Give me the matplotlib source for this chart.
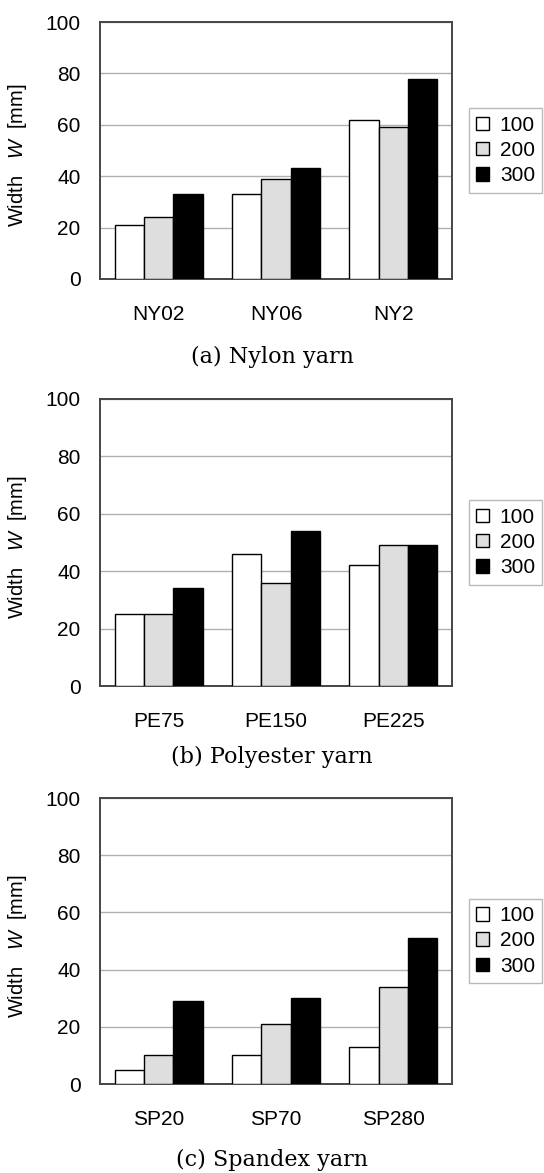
import matplotlib
matplotlib.use("Agg")
import matplotlib.pyplot as plt
import numpy as np

# Yarn widths W [mm] at three tension levels
levels = ["100", "200", "300"]

nylon_names = ["NY02", "NY06", "NY2"]
nylon_100 = [21, 33, 62]
nylon_200 = [24, 39, 59]
nylon_300 = [33, 43, 78]

polyester_names = ["PE75", "PE150", "PE225"]
polyester_100 = [25, 46, 42]
polyester_200 = [25, 36, 49]
polyester_300 = [34, 54, 49]

spandex_names = ["SP20", "SP70", "SP280"]
spandex_100 = [5, 10, 13]
spandex_200 = [10, 21, 34]
spandex_300 = [29, 30, 51]

yticks = [0, 20, 40, 60, 80, 100]

plt.rcParams["mathtext.fontset"] = "custom"
plt.rcParams["mathtext.rm"] = "Liberation Sans"
plt.rcParams["mathtext.it"] = "Liberation Sans:italic"

W, H = 544, 1173
fig = plt.figure(figsize=(W / 100, H / 100), dpi=100)

sans = ["Liberation Sans", "DejaVu Sans"]
serif = ["DejaVu Serif"]

fills = ["white", "#dedede", "black"]

# (names, series, caption, axes top px, axes bottom px, caption centre px)
panels = [
    (nylon_names, [nylon_100, nylon_200, nylon_300], "(a) Nylon yarn", 22, 279, 357),
    (polyester_names, [polyester_100, polyester_200, polyester_300], "(b) Polyester yarn", 399, 686, 757),
    (spandex_names, [spandex_100, spandex_200, spandex_300], "(c) Spandex yarn", 798, 1084, 1160),
]

left_px, right_px = 100, 452
bw = 0.25

for names, series, caption, top_px, bot_px, cap_px in panels:
    ax = fig.add_axes([left_px / W, 1 - bot_px / H, (right_px - left_px) / W, (bot_px - top_px) / H])
    x = np.arange(len(names))
    handles = []
    for i, (vals, fc) in enumerate(zip(series, fills)):
        b = ax.bar(x + (i - 1) * bw, vals, width=bw, color=fc, edgecolor="black",
                   linewidth=1.0, zorder=3, label=levels[i])
        handles.append(b)
    ax.set_xlim(-0.5, len(names) - 0.5)
    ax.set_ylim(0, 100)
    ax.set_yticks(yticks)
    ax.set_xticks(x)
    ax.set_xticklabels(names, family=sans, fontsize=15)
    ax.set_yticklabels([str(t) for t in yticks], family=sans, fontsize=15)
    ax.tick_params(axis="both", length=0)
    ax.tick_params(axis="y", pad=14)
    ax.tick_params(axis="x", pad=19)
    ax.yaxis.grid(True, color="#b0b0b0", linewidth=1.0, zorder=0)
    ax.set_axisbelow(True)
    for sp in ax.spines.values():
        sp.set_color("#454545")
        sp.set_linewidth(1.4)

    mid = (top_px + bot_px) / 2
    ax.set_ylabel("Width   $\\it{W}$  [mm]", family=sans, fontsize=14.5, va="center")
    ax.yaxis.set_label_coords((17.5 - left_px) / (right_px - left_px),
                              (bot_px - (mid + 5)) / (bot_px - top_px))

    leg = ax.legend(handles=handles, loc="center left",
                    bbox_to_anchor=(469 / W, 1 - mid / H), bbox_transform=fig.transFigure,
                    prop={"family": sans, "size": 15}, frameon=True, fancybox=False,
                    handlelength=0.63, handleheight=0.63, handletextpad=0.5,
                    labelspacing=0.3, borderpad=0.35, borderaxespad=0)
    leg.get_frame().set_edgecolor("#a8a8a8")
    leg.get_frame().set_linewidth(1.0)

    fig.text(272 / W, 1 - cap_px / H, caption, ha="center", va="center",
             family=serif, fontsize=16)

fig.savefig("out.png", dpi=100)
